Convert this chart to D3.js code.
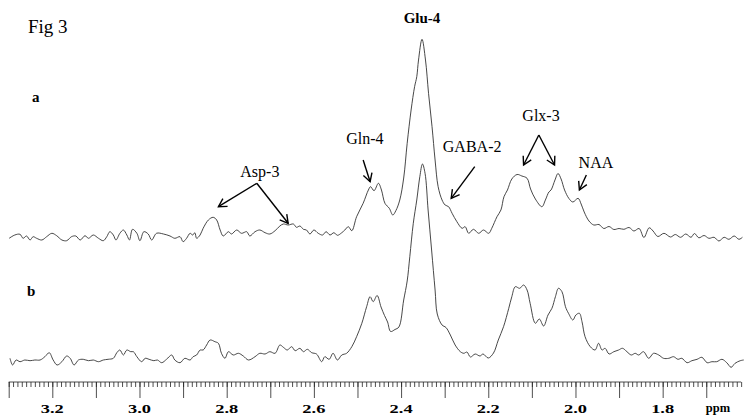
<!DOCTYPE html>
<html>
<head>
<meta charset="utf-8">
<script src="https://cdn.jsdelivr.net/npm/d3@7"></script>
<style>
    body { margin: 0; background: #fff; }
    svg { display: block; font-family: "Liberation Serif", "Times New Roman", serif; }
</style>
</head>
<body>
<svg id="chart" width="744" height="416"></svg>
<script>
// chemical shift (ppm) and intensity (a.u.)
const ppmA = [3.299,3.286,3.274,3.267,3.259,3.251,3.244,3.236,3.224,3.213,
    3.201,3.190,3.178,3.167,3.156,3.146,3.136,3.125,3.117,3.106,
    3.094,3.083,3.075,3.068,3.060,3.054,3.045,3.037,3.029,3.023,
    3.016,3.006,2.999,2.990,2.980,2.972,2.961,2.945,2.930,2.919,
    2.907,2.900,2.892,2.884,2.878,2.873,2.869,2.861,2.854,2.842,
    2.831,2.823,2.815,2.808,2.796,2.789,2.777,2.766,2.754,2.747,
    2.735,2.724,2.712,2.701,2.689,2.678,2.670,2.659,2.647,2.640,
    2.632,2.624,2.617,2.609,2.600,2.590,2.580,2.572,2.563,2.554,
    2.546,2.536,2.529,2.521,2.513,2.502,2.487,2.475,2.470,2.462,
    2.452,2.445,2.437,2.427,2.419,2.412,2.403,2.394,2.386,2.377,
    2.369,2.364,2.360,2.352,2.344,2.337,2.329,2.322,2.315,2.306,
    2.299,2.291,2.283,2.272,2.260,2.253,2.245,2.234,2.222,2.211,
    2.199,2.192,2.180,2.171,2.164,2.156,2.146,2.134,2.123,2.111,
    2.103,2.092,2.077,2.069,2.061,2.056,2.047,2.040,2.033,2.025,
    2.015,2.006,1.994,1.987,1.980,1.969,1.958,1.946,1.935,1.923,
    1.912,1.900,1.889,1.877,1.866,1.854,1.843,1.831,1.822,1.811,
    1.797,1.782,1.771,1.759,1.747,1.735,1.727,1.717,1.705,1.694,
    1.682,1.671,1.659,1.648,1.636,1.625,1.617];
const intA = [-0.3,3,3.7,-0.3,2,-2,1.3,-0.3,-2,1.3,
    4.7,2.3,-2,-2.7,1.3,2,-2,2.3,-0.3,3,
    -0.3,-2.7,1.3,6.3,3,-2,4.7,8,3,-2,
    8.7,4.7,-2.7,6.3,4,-2,4.7,4,2,-0.3,
    1.3,-3.7,-0.3,4.7,3,5.3,-0.3,3,9.7,18,
    20.7,18,8,2,6.3,4,8,4.7,6.3,2,
    6.3,8,5.3,4,7.3,12,14,13,14,10.7,
    12,8.7,8,4,8,4.7,3,6.3,3,5.3,
    2.7,5.3,8,11.3,7.3,21.3,34.7,48,51.3,47.3,
    54.7,48,34.7,29.7,23,27.3,38,60,94.7,128,
    151.3,161.3,178,198.7,178,144.7,111.3,78,51.3,38,
    33,31.3,24.7,16.3,9.7,11.3,4.7,8.7,4.7,8,
    4.7,9.7,21.3,28,41.3,48,59,63.5,62,59.7,
    49,39,31.3,38,46,48,58,64.5,59,48,
    39.5,36,39.7,34,26,17,13,13.5,9.5,11.5,
    8.5,9.5,8.7,10.5,7,9.5,0.5,10.2,7,1.5,
    4.7,1,3.5,0.7,4,0.7,4.5,0.2,2.5,-0.3,
    0.7,-3,0.7,-1.3,2,-1.3,0.7];

const ppmB = [3.297,3.291,3.283,3.274,3.263,3.251,3.240,3.228,3.217,3.207,
    3.198,3.189,3.178,3.167,3.159,3.150,3.140,3.129,3.117,3.106,
    3.094,3.083,3.072,3.060,3.052,3.045,3.037,3.029,3.020,3.014,
    3.006,2.995,2.987,2.978,2.967,2.959,2.949,2.938,2.926,2.919,
    2.907,2.896,2.884,2.877,2.869,2.861,2.854,2.846,2.838,2.827,
    2.819,2.812,2.804,2.796,2.785,2.773,2.762,2.750,
    2.735,2.724,2.712,2.701,2.689,2.678,2.670,2.661,2.651,2.643,
    2.632,2.624,2.615,2.605,2.594,2.582,2.575,2.565,2.556,2.546,
    2.536,2.525,2.513,2.502,2.490,2.479,2.471,2.464,2.455,2.446,
    2.438,2.431,2.424,2.414,2.405,2.394,2.386,2.380,2.372,2.364,
    2.357,2.351,2.345,2.338,2.330,2.322,2.317,2.306,2.297,2.287,
    2.276,2.264,2.256,2.249,2.241,2.230,2.219,2.212,2.200,2.188,
    2.177,2.165,2.153,2.146,2.138,2.128,2.119,2.111,2.104,2.092,
    2.083,2.073,2.063,2.054,2.046,2.039,2.031,2.023,2.016,2.006,
    1.999,1.991,1.985,1.978,1.966,1.955,1.947,1.939,1.932,1.923,
    1.912,1.901,1.892,1.882,1.872,1.863,1.855,1.844,1.832,1.821,
    1.809,1.798,1.786,1.775,1.765,1.756,1.744,1.733,1.721,1.710,
    1.698,1.687,1.676,1.664,1.653,1.643,1.634,1.622,1.614];
const intB = [-0.3,-7,-2,-3.7,-2,-2.7,-2,-2,1.3,5.3,
    -2,-7,-3.7,2,-0.3,-7,-2,-1.3,-2.7,-2,
    -3.7,-2,-1.3,-0.3,5.3,8,3,8,6.3,6.3,
    1.3,-3.7,-0.3,-1.3,-2.7,-2,-4.7,-1.3,3,-2,
    -4.7,-0.3,-2,1.3,3,8,8,13,18,16.3,
    14.7,4.7,-0.3,6.3,3,4.7,2,-2,
    1.3,4.7,4,6.3,4.7,13,10.7,8,11.3,7.3,
    9.7,6.3,8.7,5.3,4,-3.7,1.3,-1.3,4.7,-2,
    3,4.7,11.3,21.3,34.7,51.3,61.3,56.3,62.5,51,
    42.5,36,26.5,28.5,31,58,77,101.3,134.7,158,
    181.3,194,184.7,148,108,68,44,33,30.5,23,
    13,6.3,4.7,6,1,4,2,4,0,5,
    18,31.3,49.7,61.3,71.3,69.7,73,68,54.7,34.7,
    39,32,43,49.7,61.3,69.7,66.3,51.3,44.7,38,
    43,44.7,36.3,21.3,11.3,8,14.7,8,9.7,4,
    6.3,8,9.7,6.3,3,4.7,3,6.3,-0.3,4.7,
    3,-0.3,-0.3,1.3,-1.3,-0.3,-4.7,-2.7,-1.3,0.7,
    -4.7,-3.7,-3.7,-1.3,-4.7,-9.3,-5.3,-2.7,-2];

const tickLabels = ['3.2', '3.0', '2.8', '2.6', '2.4', '2.2', '2.0', '1.8'];
const peakNames = ['Asp-3', 'Gln-4', 'Glu-4', 'GABA-2', 'Glx-3', 'NAA'];
const peakShifts = [2.724, 2.483, 2.352, 2.237, 2.079, 1.953];

// layout
const labelY = [176.7, 144, 23, 152, 121, 168];
const arrows = [
    [2.731, 183.3, 2.819, 206.7], [2.731, 183.3, 2.659, 223.3],
    [2.487, 160, 2.471, 181.7],
    [2.231, 166.7, 2.285, 198.3],
    [2.084, 135, 2.119, 165], [2.084, 135, 2.048, 165],
    [1.975, 175, 1.991, 190]
];
const baseA = 238, baseB = 358, axisY = 382;

const svg = d3.select('#chart');
const x = d3.scaleLinear().domain([3.30, 1.61]).range([8.7, 745.5]);
const y = d3.scaleLinear().domain([0, 200]).range([0, -200]);

const line = d3.line()
    .x(d => x(d[0]))
    .y(d => y(d[1]))
    .curve(d3.curveCatmullRom.alpha(0.5));

function drawTrace(ppm, vals, base) {
    svg.append('g')
        .attr('transform', `translate(0,${base})`)
        .append('path')
        .datum(d3.zip(ppm, vals))
        .attr('d', line)
        .attr('fill', 'none')
        .attr('stroke', '#333')
        .attr('stroke-width', 0.9);
}

drawTrace(ppmA, intA, baseA);
drawTrace(ppmB, intB, baseB);

// ruler axis: 0.01 minor, 0.1 major, labels every 0.2
const minorTicks = d3.range(330, 161, -1).map(d => d / 100);
const majorTicks = d3.range(33, 16, -1).map(d => d / 10);

const axis = svg.append('g').attr('transform', `translate(0,${axisY})`);
axis.append('g').call(d3.axisBottom(x).tickValues(minorTicks).tickSize(5).tickFormat(''));
axis.append('g').call(d3.axisBottom(x).tickValues(majorTicks).tickSize(16).tickFormat(''));
axis.selectAll('.domain').remove();
axis.selectAll('line').attr('stroke', '#222').attr('stroke-width', 0.8);
axis.append('line')
    .attr('x1', x(3.3)).attr('x2', x(1.62))
    .attr('stroke', '#222').attr('stroke-width', 0.8);

svg.selectAll('.tick-label')
    .data(tickLabels)
    .join('text')
    .attr('class', 'tick-label')
    .attr('x', d => x(+d))
    .attr('y', 413)
    .attr('text-anchor', 'middle')
    .attr('font-size', 13)
    .attr('font-weight', 'bold')
    .attr('textLength', 23)
    .attr('lengthAdjust', 'spacingAndGlyphs')
    .text(d => d);

svg.append('text')
    .attr('x', 718).attr('y', 412)
    .attr('text-anchor', 'middle')
    .attr('font-size', 12.5)
    .attr('font-weight', 'bold')
    .text('ppm');

// titles
svg.append('text').attr('x', 28).attr('y', 33).attr('font-size', 19).text('Fig 3');
svg.append('text').attr('x', 32).attr('y', 102).attr('font-size', 15).attr('font-weight', 'bold').text('a');
svg.append('text').attr('x', 27).attr('y', 296).attr('font-size', 15).attr('font-weight', 'bold').text('b');

// peak annotations
svg.append('defs').append('marker')
    .attr('id', 'head')
    .attr('viewBox', '-10 -6 12 12')
    .attr('markerUnits', 'userSpaceOnUse')
    .attr('markerWidth', 12).attr('markerHeight', 12)
    .attr('refX', 0).attr('refY', 0)
    .attr('orient', 'auto')
    .append('path')
    .attr('d', 'M-8,-4.5L0,0L-8,4.5')
    .attr('fill', 'none')
    .attr('stroke', '#000')
    .attr('stroke-width', 1.4);

svg.selectAll('.arrow')
    .data(arrows)
    .join('line')
    .attr('class', 'arrow')
    .attr('x1', d => x(d[0])).attr('y1', d => d[1])
    .attr('x2', d => x(d[2])).attr('y2', d => d[3])
    .attr('stroke', '#000')
    .attr('stroke-width', 1.4)
    .attr('marker-end', 'url(#head)');

svg.selectAll('.peak-label')
    .data(peakNames)
    .join('text')
    .attr('class', 'peak-label')
    .attr('x', (d, i) => x(peakShifts[i]))
    .attr('y', (d, i) => labelY[i])
    .attr('text-anchor', 'middle')
    .attr('font-size', d => d === 'Glu-4' ? 15 : 16)
    .attr('font-weight', d => d === 'Glu-4' ? 'bold' : 'normal')
    .text(d => d);
</script>
</body>
</html>
